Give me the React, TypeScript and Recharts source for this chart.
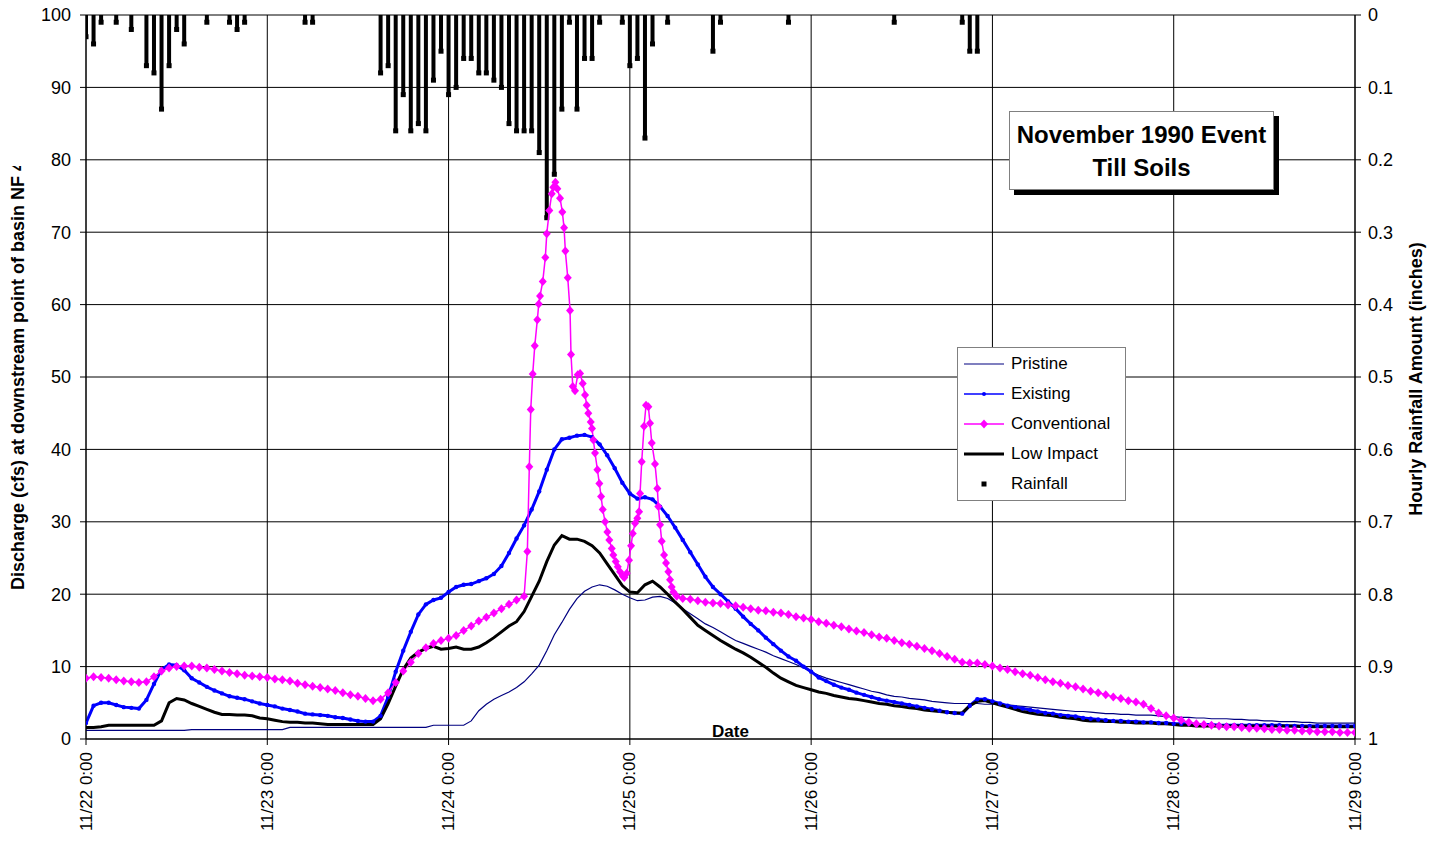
import React from 'react';
import { ComposedChart, Line, Bar, XAxis, YAxis, CartesianGrid, Legend } from 'recharts';

const FONT = '"Liberation Sans", Arial, Helvetica, sans-serif';

// Time axis: hours since 11/22 0:00
const dayTicks = [0, 24, 48, 72, 96, 120, 144, 168];
const dayLabels = ['11/22 0:00', '11/23 0:00', '11/24 0:00', '11/25 0:00', '11/26 0:00', '11/27 0:00', '11/28 0:00', '11/29 0:00'];
const flowTicks = [0, 10, 20, 30, 40, 50, 60, 70, 80, 90, 100];
const rainTicks = [0, 0.1, 0.2, 0.3, 0.4, 0.5, 0.6, 0.7, 0.8, 0.9, 1];

// Hourly rainfall (inches)
const rainHours = [0, 1, 2, 4, 6, 8, 9, 10, 11, 12, 13, 16, 19, 20, 21, 29, 30,
  39, 40, 41, 42, 43, 44, 45, 46, 47, 48, 49, 50, 51, 52, 53, 54, 55, 56, 57, 58, 59, 60, 61, 62, 63, 64, 65, 66, 67, 68,
  71, 72, 73, 74, 75, 77, 83, 84, 93, 107, 116, 117, 118];
const rainInches = [0.03, 0.04, 0.01, 0.01, 0.02, 0.07, 0.08, 0.13, 0.07, 0.02, 0.04, 0.01, 0.01, 0.02, 0.01, 0.01, 0.01,
  0.08, 0.07, 0.16, 0.11, 0.16, 0.15, 0.16, 0.09, 0.05, 0.11, 0.10, 0.06, 0.06, 0.08, 0.08, 0.09, 0.10, 0.15, 0.16, 0.16, 0.16, 0.19, 0.28, 0.22, 0.13, 0.01, 0.13, 0.06, 0.06, 0.01,
  0.01, 0.07, 0.06, 0.17, 0.04, 0.01, 0.05, 0.01, 0.01, 0.01, 0.01, 0.05, 0.05];

// Hourly discharge (cfs), hour 0 .. 168
const pristineFlow = [
  1.2, 1.2, 1.2, 1.2, 1.2, 1.2, 1.2, 1.2, 1.2, 1.2, 1.2, 1.2,
  1.2, 1.2, 1.3, 1.3, 1.3, 1.3, 1.3, 1.3, 1.3, 1.3, 1.3, 1.3,
  1.3, 1.3, 1.3, 1.6, 1.6, 1.6, 1.6, 1.6, 1.6, 1.6, 1.6, 1.6,
  1.6, 1.6, 1.6, 1.6, 1.6, 1.6, 1.6, 1.6, 1.6, 1.6, 1.9, 1.9,
  1.9, 1.9, 1.9, 2.5, 3.9, 4.8, 5.5, 6.0, 6.5, 7.1, 7.9, 9.0,
  10.2, 12.2, 14.4, 16.1, 17.9, 19.4, 20.4, 21.0, 21.3, 21.1, 20.6, 20.0,
  19.5, 19.1, 19.2, 19.6, 19.7, 19.4, 18.8, 18.0, 17.3, 16.6, 15.9, 15.4,
  14.8, 14.2, 13.6, 13.2, 12.8, 12.4, 12.0, 11.5, 11.1, 10.7, 10.3, 9.8,
  9.3, 8.8, 8.4, 8.1, 7.8, 7.5, 7.2, 6.9, 6.6, 6.4, 6.1, 5.9,
  5.8, 5.6, 5.5, 5.4, 5.2, 5.1, 5.0, 4.9, 4.9, 4.9, 4.9, 4.8,
  4.8, 4.8, 4.7, 4.6, 4.5, 4.4, 4.3, 4.2, 4.1, 4.0, 3.9, 3.8,
  3.8, 3.7, 3.6, 3.5, 3.5, 3.4, 3.4, 3.3, 3.3, 3.3, 3.2, 3.1,
  3.1, 3.0, 3.0, 2.9, 2.9, 2.8, 2.8, 2.8, 2.7, 2.7, 2.6, 2.6,
  2.5, 2.5, 2.4, 2.4, 2.4, 2.3, 2.3, 2.2, 2.2, 2.2, 2.2, 2.2,
  2.2,
];

const existingFlow = [
  2.2, 4.6, 5.0, 5.0, 4.7, 4.4, 4.3, 4.2, 5.4, 7.6, 9.6, 10.3,
  10.2, 9.5, 8.4, 7.8, 7.2, 6.7, 6.3, 5.9, 5.7, 5.5, 5.2, 4.9,
  4.7, 4.5, 4.2, 4.0, 3.8, 3.5, 3.4, 3.3, 3.2, 3.0, 2.9, 2.7,
  2.5, 2.4, 2.4, 3.2, 5.8, 9.3, 12.2, 14.8, 17.2, 18.6, 19.2, 19.5,
  20.3, 21.0, 21.3, 21.4, 21.8, 22.2, 22.8, 23.9, 25.7, 27.7, 29.5, 31.7,
  34.2, 37.2, 40.0, 41.4, 41.6, 41.9, 42.0, 41.7, 40.7, 39.2, 37.4, 35.4,
  33.9, 33.2, 33.4, 33.1, 32.1, 30.8, 29.2, 27.5, 25.8, 24.1, 22.4, 21.0,
  20.0, 19.0, 18.0, 16.9, 15.9, 15.0, 14.0, 13.1, 12.2, 11.4, 10.8, 10.0,
  9.3, 8.5, 8.0, 7.5, 7.1, 6.8, 6.4, 6.1, 5.8, 5.5, 5.3, 5.1,
  4.9, 4.7, 4.5, 4.3, 4.1, 3.9, 3.7, 3.6, 3.5, 4.6, 5.5, 5.5,
  5.2, 4.9, 4.6, 4.4, 4.2, 4.0, 3.8, 3.6, 3.5, 3.3, 3.2, 3.1,
  2.9, 2.8, 2.7, 2.6, 2.5, 2.5, 2.4, 2.4, 2.3, 2.3, 2.2, 2.2,
  2.1, 2.1, 2.1, 2.0, 2.0, 2.0, 1.9, 1.9, 1.9, 1.9, 1.9, 1.9,
  1.9, 1.9, 1.9, 1.8, 1.8, 1.8, 1.8, 1.8, 1.8, 1.8, 1.8, 1.8,
  1.8,
];

const lowImpactFlow = [
  1.6, 1.6, 1.7, 1.9, 1.9, 1.9, 1.9, 1.9, 1.9, 1.9, 2.5, 5.0,
  5.6, 5.4, 4.9, 4.5, 4.1, 3.7, 3.4, 3.4, 3.3, 3.3, 3.2, 2.9,
  2.8, 2.6, 2.4, 2.3, 2.3, 2.2, 2.2, 2.1, 2.0, 2.0, 2.0, 2.0,
  2.0, 2.0, 2.0, 2.8, 4.9, 7.3, 9.6, 11.2, 12.0, 12.5, 12.8, 12.4,
  12.5, 12.7, 12.4, 12.4, 12.7, 13.3, 14.0, 14.8, 15.6, 16.2, 17.6, 19.7,
  21.8, 24.5, 26.8, 28.1, 27.6, 27.6, 27.3, 26.7, 25.7, 24.2, 22.7, 21.2,
  20.3, 20.2, 21.3, 21.8, 21.0, 20.0, 18.9, 17.9, 16.8, 15.7, 15.0, 14.3,
  13.6, 13.0, 12.4, 11.9, 11.3, 10.6, 9.9, 9.1, 8.4, 7.9, 7.4, 7.1,
  6.8, 6.5, 6.3, 6.0, 5.8, 5.6, 5.5, 5.3, 5.1, 4.9, 4.8, 4.6,
  4.5, 4.3, 4.2, 4.0, 3.9, 3.8, 3.7, 3.6, 3.6, 4.6, 5.2, 5.3,
  5.0, 4.7, 4.4, 4.1, 3.8, 3.6, 3.4, 3.3, 3.2, 3.0, 2.9, 2.8,
  2.6, 2.5, 2.5, 2.4, 2.4, 2.3, 2.3, 2.2, 2.2, 2.2, 2.1, 2.1,
  2.0, 1.9, 1.9, 1.8, 1.8, 1.8, 1.8, 1.8, 1.8, 1.8, 1.8, 1.8,
  1.8, 1.8, 1.8, 1.8, 1.8, 1.7, 1.7, 1.7, 1.7, 1.7, 1.7, 1.7,
  1.7,
];

// Conventional: hourly up to hour 58, 15-minute record through the peaks, hourly from hour 79
const conventionalRise = [
  8.4, 8.6, 8.5, 8.4, 8.2, 8.0, 7.9, 7.8, 7.9, 8.6, 9.4, 9.8,
  10.0, 10.1, 10.1, 9.9, 9.8, 9.6, 9.4, 9.2, 9.0, 8.8, 8.7, 8.6,
  8.5, 8.3, 8.2, 8.0, 7.7, 7.5, 7.3, 7.1, 6.9, 6.7, 6.4, 6.1,
  5.9, 5.6, 5.3, 5.5, 6.4, 7.8, 9.4, 10.6, 11.8, 12.6, 13.2, 13.6,
  13.9, 14.3, 15.0, 15.6, 16.3, 16.8, 17.4, 18.0, 18.6, 19.2, 19.7,
];
const conventionalPeak: [number, number][] = [
  [58.43, 25.9], [58.69, 37.6], [58.88, 45.5], [59.14, 50.4], [59.41, 54.3], [59.75, 57.9], [59.94, 60.1],
  [60.11, 61.2], [60.47, 63.2], [60.81, 66.5], [61.0, 69.8], [61.34, 73.0], [61.66, 75.3], [61.87, 76.2],
  [62.14, 76.9], [62.4, 76.0], [62.76, 74.7], [63.06, 72.8], [63.29, 70.6], [63.46, 67.4], [63.78, 63.7],
  [64.08, 59.2], [64.21, 53.1], [64.44, 48.7], [64.74, 48.1], [65.1, 50.3], [65.41, 50.5], [65.76, 49.1],
  [66.07, 47.5], [66.29, 46.1], [66.5, 45.0], [66.82, 43.8], [66.99, 42.9], [67.17, 41.3], [67.39, 39.5],
  [67.7, 37.2], [67.96, 35.3], [68.19, 33.5], [68.41, 31.7], [68.72, 30.0], [69.02, 28.6], [69.28, 27.5],
  [69.6, 26.3], [69.81, 25.4], [70.13, 24.5], [70.4, 23.8], [70.7, 23.1], [71.06, 22.5], [71.27, 22.3],
  [71.59, 22.9], [71.89, 24.7], [72.16, 26.7], [72.38, 28.4], [72.69, 29.8], [72.99, 30.5], [73.22, 31.4],
  [73.35, 33.9], [73.57, 38.3], [73.88, 43.2], [74.14, 46.1], [74.45, 45.9], [74.67, 43.6], [74.9, 40.9],
  [75.33, 38.0], [75.64, 34.6], [75.77, 32.1], [76.0, 29.6], [76.22, 27.3], [76.53, 25.4], [76.79, 24.3],
  [77.1, 23.1], [77.32, 22.0], [77.54, 21.0], [77.76, 20.3], [78.21, 19.7],
];
const conventionalRecession = [
  19.4, 19.3, 19.1, 18.9, 18.8, 18.7, 18.5, 18.4, 18.2, 18.0, 17.8, 17.7,
  17.5, 17.4, 17.2, 16.9, 16.7, 16.5, 16.2, 16.0, 15.7, 15.5, 15.2, 14.9,
  14.7, 14.4, 14.1, 13.9, 13.6, 13.3, 13.1, 12.8, 12.5, 12.2, 11.8, 11.4,
  11.0, 10.6, 10.5, 10.5, 10.3, 10.1, 9.8, 9.6, 9.3, 9.0, 8.8, 8.5,
  8.2, 7.9, 7.7, 7.4, 7.2, 6.9, 6.6, 6.4, 6.1, 5.8, 5.6, 5.3,
  5.1, 4.8, 4.2, 3.6, 3.2, 2.9, 2.6, 2.3, 2.1, 2.0, 1.9, 1.8,
  1.7, 1.7, 1.6, 1.5, 1.5, 1.4, 1.3, 1.3, 1.2, 1.2, 1.1, 1.1,
  1.0, 1.0, 1.0, 0.9, 0.9, 0.9,
];

const COLORS = {
  pristine: '#000080',
  existing: '#0000FF',
  conventional: '#FF00FF',
  lowImpact: '#000000',
  rain: '#000000',
};

const W = 1442;
const H = 844;

const toRows = (vals: number[], start: number) => vals.map((q, i) => ({ h: start + i, q }));

// Rainfall hangs from the top (reversed axis): a stem with a square marker at its end
function RainStem(props: any) {
  const { x, y, width, height } = props;
  if (x == null || y == null || !height) return null;
  const top = Math.min(y, y + height);
  const bottom = Math.max(y, y + height);
  const cx = x + width / 2;
  return (
    <g>
      <rect x={cx - 2} y={top} width={4} height={bottom - top} fill={COLORS.rain} />
      <rect x={cx - 2.5} y={bottom - 2.5} width={5} height={5} fill={COLORS.rain} />
    </g>
  );
}

function ExistingDot(props: any) {
  const { cx, cy, index } = props;
  if (cx == null || cy == null) return null;
  return <circle key={`ex-${index}`} cx={cx} cy={cy} r={2.2} fill={COLORS.existing} />;
}

function DiamondDot(props: any) {
  const { cx, cy, index } = props;
  if (cx == null || cy == null) return null;
  const w = 4;
  const h = 4.5;
  return (
    <polygon
      key={`cv-${index}`}
      points={`${cx},${cy - h} ${cx + w},${cy} ${cx},${cy + h} ${cx - w},${cy}`}
      fill={COLORS.conventional}
    />
  );
}

function DayTick(props: any) {
  const { x, y, payload } = props;
  const i = dayTicks.indexOf(payload.value);
  return (
    <text
      x={x}
      y={y}
      transform={`rotate(-90, ${x}, ${y})`}
      textAnchor="end"
      dominantBaseline="central"
      fontFamily={FONT}
      fontSize={17}
      fill="#000"
    >
      {dayLabels[i]}
    </text>
  );
}

const legendItems = [
  { name: 'Pristine', kind: 'line', color: COLORS.pristine, width: 1.2 },
  { name: 'Existing', kind: 'dot', color: COLORS.existing, width: 1.5 },
  { name: 'Conventional', kind: 'diamond', color: COLORS.conventional, width: 1.5 },
  { name: 'Low Impact', kind: 'line', color: COLORS.lowImpact, width: 3 },
  { name: 'Rainfall', kind: 'square', color: COLORS.rain, width: 0 },
];

function LegendBox() {
  return (
    <div
      style={{
        border: '1px solid #808080',
        background: '#fff',
        padding: '1px 6px 1px 6px',
        fontFamily: FONT,
        fontSize: 17,
        color: '#000',
        width: 155,
      }}
    >
      {legendItems.map((item) => (
        <div key={item.name} style={{ display: 'flex', alignItems: 'center', height: 30 }}>
          <svg width={40} height={12} style={{ flex: 'none' }}>
            {item.kind !== 'square' && (
              <line x1={0} y1={6} x2={40} y2={6} stroke={item.color} strokeWidth={item.width} />
            )}
            {item.kind === 'dot' && <circle cx={20} cy={6} r={2} fill={item.color} />}
            {item.kind === 'diamond' && <polygon points="20,1.5 24,6 20,10.5 16,6" fill={item.color} />}
            {item.kind === 'square' && <rect x={17.5} y={3.5} width={5} height={5} fill={item.color} />}
          </svg>
          <span style={{ marginLeft: 7, whiteSpace: 'nowrap' }}>{item.name}</span>
        </div>
      ))}
    </div>
  );
}

export default function App() {
  const rainRows = rainHours.map((h, i) => ({ h, rain: rainInches[i] }));
  const pristineRows = toRows(pristineFlow, 0);
  const existingRows = toRows(existingFlow, 0);
  const lowImpactRows = toRows(lowImpactFlow, 0);
  const conventionalRows = [
    ...toRows(conventionalRise, 0),
    ...conventionalPeak.map(([h, q]) => ({ h, q })),
    ...toRows(conventionalRecession, 79),
  ];

  const leftTitle = (p: any) => {
    const vb = p.viewBox;
    const x = vb.x + 18;
    const y = vb.y + vb.height / 2 + 213;
    return (
      <g>
        <defs>
          <clipPath id="leftTitleClip">
            <rect x={0} y={166} width={40} height={600} />
          </clipPath>
        </defs>
        <g clipPath="url(#leftTitleClip)">
          <text
            x={x}
            y={y}
            transform={`rotate(-90, ${x}, ${y})`}
            textAnchor="start"
            dominantBaseline="central"
            fontFamily={FONT}
            fontWeight="bold"
            fontSize={18}
            fill="#000"
          >
            Discharge (cfs) at downstream point of basin NF 4
          </text>
        </g>
      </g>
    );
  };

  const rightTitle = (p: any) => {
    const vb = p.viewBox;
    const x = vb.x + 61;
    const y = vb.y + vb.height / 2 + 2;
    return (
      <text
        x={x}
        y={y}
        transform={`rotate(-90, ${x}, ${y})`}
        textAnchor="middle"
        dominantBaseline="central"
        fontFamily={FONT}
        fontWeight="bold"
        fontSize={18}
        fill="#000"
      >
        Hourly Rainfall Amount (inches)
      </text>
    );
  };

  const dateTitle = (p: any) => {
    const vb = p.viewBox;
    return (
      <text
        x={vb.x + vb.width / 2 + 10}
        y={vb.y - 8}
        textAnchor="middle"
        dominantBaseline="central"
        fontFamily={FONT}
        fontWeight="bold"
        fontSize={17}
        fill="#000"
      >
        Date
      </text>
    );
  };

  const tickStyle = { fontFamily: FONT, fontSize: 18, fill: '#000' };

  return (
    <div style={{ position: 'absolute', left: 0, top: 0, width: W, height: H }}>
      <ComposedChart
        width={W}
        height={H}
        data={rainRows}
        margin={{ top: 15, right: 0, bottom: 0, left: 0 }}
      >
        <CartesianGrid yAxisId="flow" stroke="#000" strokeWidth={1} />
        <XAxis
          dataKey="h"
          type="number"
          domain={[0, 168]}
          ticks={dayTicks}
          interval={0}
          allowDataOverflow
          height={105}
          tickSize={6}
          tickMargin={7}
          tick={<DayTick />}
          axisLine={{ stroke: '#000' }}
          tickLine={{ stroke: '#000' }}
          label={dateTitle}
        />
        <YAxis
          yAxisId="flow"
          orientation="left"
          width={86}
          domain={[0, 100]}
          ticks={flowTicks}
          interval={0}
          allowDataOverflow
          tickSize={6}
          tickMargin={9}
          tick={tickStyle}
          axisLine={{ stroke: '#000' }}
          tickLine={{ stroke: '#000' }}
          label={leftTitle}
        />
        <YAxis
          yAxisId="rain"
          orientation="right"
          width={87}
          reversed
          domain={[0, 1]}
          ticks={rainTicks}
          interval={0}
          allowDataOverflow
          tickSize={6}
          tickMargin={7}
          tick={{ ...tickStyle, textAnchor: 'start' }}
          tickFormatter={(v: number) => String(v)}
          axisLine={{ stroke: '#000' }}
          tickLine={{ stroke: '#000' }}
          label={rightTitle}
        />
        <Bar
          yAxisId="rain"
          dataKey="rain"
          name="Rainfall"
          barSize={4}
          fill={COLORS.rain}
          shape={<RainStem />}
          isAnimationActive={false}
        />
        <Line
          yAxisId="flow"
          data={pristineRows}
          dataKey="q"
          name="Pristine"
          type="linear"
          stroke={COLORS.pristine}
          strokeWidth={1.2}
          dot={false}
          activeDot={false}
          isAnimationActive={false}
        />
        <Line
          yAxisId="flow"
          data={existingRows}
          dataKey="q"
          name="Existing"
          type="linear"
          stroke={COLORS.existing}
          strokeWidth={3}
          dot={(p: any) => <ExistingDot key={`ex-${p.index}`} {...p} />}
          activeDot={false}
          isAnimationActive={false}
        />
        <Line
          yAxisId="flow"
          data={conventionalRows}
          dataKey="q"
          name="Conventional"
          type="linear"
          stroke={COLORS.conventional}
          strokeWidth={1.5}
          dot={(p: any) => <DiamondDot key={`cv-${p.index}`} {...p} />}
          activeDot={false}
          isAnimationActive={false}
        />
        <Line
          yAxisId="flow"
          data={lowImpactRows}
          dataKey="q"
          name="Low Impact"
          type="linear"
          stroke={COLORS.lowImpact}
          strokeWidth={3}
          dot={false}
          activeDot={false}
          isAnimationActive={false}
        />
        <Legend
          layout="vertical"
          align="center"
          verticalAlign="middle"
          content={() => <LegendBox />}
          wrapperStyle={{ position: 'absolute', left: 957, top: 347, width: 'auto', height: 'auto' }}
        />
      </ComposedChart>
      <div
        style={{
          position: 'absolute',
          left: 1009,
          top: 111,
          width: 265,
          height: 79,
          boxSizing: 'border-box',
          border: '1px solid #808080',
          background: '#fff',
          boxShadow: '5px 5px 0 #000',
          fontFamily: FONT,
          fontWeight: 'bold',
          fontSize: 24,
          color: '#000',
          textAlign: 'center',
          display: 'flex',
          flexDirection: 'column',
          justifyContent: 'center',
          lineHeight: '33px',
        }}
      >
        <div>November 1990 Event</div>
        <div>Till Soils</div>
      </div>
    </div>
  );
}
